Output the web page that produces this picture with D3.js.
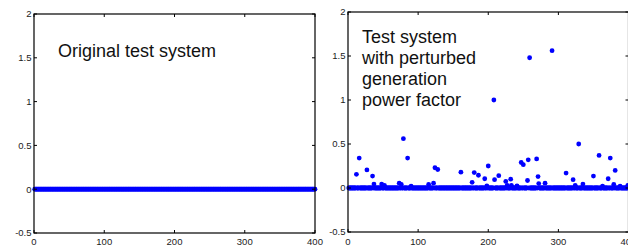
<!DOCTYPE html>
<html>
<head>
<meta charset="utf-8">
<script src="https://cdn.jsdelivr.net/npm/d3@7"></script>
<style>
  body { margin: 0; background: #fff; }
  svg { display: block; font-family: "Liberation Sans", Arial, sans-serif; }
</style>
</head>
<body>
<svg id="chart" width="628" height="245"></svg>
<script>
// bus count and axis ticks
var busCount = 400;
var xTicks = [0, 100, 200, 300, 400];
var yTicks = [-0.5, 0, 0.5, 1, 1.5, 2];
var yTickLabels = ['-0.5', '0', '0.5', '1', '1.5', '2'];

// original system: every bus at zero
var originalBus = [];
var originalValue = [];

// perturbed system: buses with a visible non-zero value
var perturbedBus = [12, 16, 27, 35, 37, 48, 52, 73, 76, 79, 85, 90, 115, 122, 124, 128,
  161, 177, 180, 186, 195, 198, 200, 208, 209, 215, 225, 227, 232, 233, 241, 247, 250,
  256, 257, 259, 269, 271, 272, 281, 291, 311, 321, 324, 329, 335, 350, 358, 363, 371,
  374, 379, 381, 388, 399];
var perturbedValue = [0.155, 0.34, 0.205, 0.135, 0.045, 0.045, 0.03, 0.055, 0.04, 0.56, 0.34, 0.02, 0.04, 0.055, 0.23, 0.21,
  0.18, 0.065, 0.175, 0.145, 0.105, 0.025, 0.25, 1.0, 0.095, 0.14, 0.075, 0.03, 0.1, 0.03, 0.025, 0.29, 0.265,
  0.085, 0.32, 1.48, 0.33, 0.13, 0.05, 0.055, 1.56, 0.17, 0.095, 0.03, 0.5, 0.045, 0.135, 0.37, 0.02, 0.105,
  0.34, 0.04, 0.2, 0.02, 0.03];

function series(bus, value) {
  var data = [];
  for (var i = 1; i <= busCount; i++) {
    var k = bus.indexOf(i);
    data.push({x: i, y: k < 0 ? 0 : value[k]});
  }
  return data;
}

var svg = d3.select('#chart');

var panels = [
  {left: 34, right: 315, top: 14, bottom: 233, data: series(originalBus, originalValue),
   label: ['Original test system'], lx: 58, ly: 57},
  {left: 348, right: 628.5, top: 12, bottom: 232, data: series(perturbedBus, perturbedValue),
   label: ['Test system', 'with perturbed', 'generation', 'power factor'], lx: 362, ly: 43}
];

panels.forEach(function(p) {
  var x = d3.scaleLinear().domain([0, 400]).range([p.left, p.right]);
  var y = d3.scaleLinear().domain([-0.5, 2]).range([p.bottom, p.top]);
  var g = svg.append('g');

  // markers
  g.selectAll('circle')
    .data(p.data)
    .enter()
    .append('circle')
    .attr('cx', function(d) { return x(d.x); })
    .attr('cy', function(d) { return y(d.y); })
    .attr('r', 2.4)
    .attr('fill', '#0000ff');

  // inward ticks on all four sides
  var tl = 3;
  xTicks.forEach(function(t) {
    g.append('line').attr('x1', x(t)).attr('x2', x(t))
      .attr('y1', p.bottom).attr('y2', p.bottom - tl).attr('stroke', '#000');
    g.append('line').attr('x1', x(t)).attr('x2', x(t))
      .attr('y1', p.top).attr('y2', p.top + tl).attr('stroke', '#000');
    g.append('text').attr('x', x(t)).attr('y', 244.5)
      .attr('text-anchor', 'middle').attr('font-size', 9.5).attr('fill', '#222')
      .text(t);
  });
  yTicks.forEach(function(t, i) {
    g.append('line').attr('x1', p.left).attr('x2', p.left + tl)
      .attr('y1', y(t)).attr('y2', y(t)).attr('stroke', '#000');
    g.append('line').attr('x1', p.right).attr('x2', p.right - tl)
      .attr('y1', y(t)).attr('y2', y(t)).attr('stroke', '#000');
    g.append('text').attr('x', p.left - 2.5).attr('y', y(t))
      .attr('dy', '0.35em')
      .attr('text-anchor', 'end').attr('font-size', 9.5).attr('fill', '#222')
      .text(yTickLabels[i]);
  });

  // axes box
  g.append('rect')
    .attr('x', p.left).attr('y', p.top)
    .attr('width', p.right - p.left).attr('height', p.bottom - p.top)
    .attr('fill', 'none').attr('stroke', '#000').attr('stroke-width', 1.2);

  // annotation
  var txt = g.append('text').attr('font-size', 18).attr('fill', '#111');
  p.label.forEach(function(line, i) {
    txt.append('tspan').attr('x', p.lx).attr('y', p.ly + i * 21).text(line);
  });
});
</script>
</body>
</html>
